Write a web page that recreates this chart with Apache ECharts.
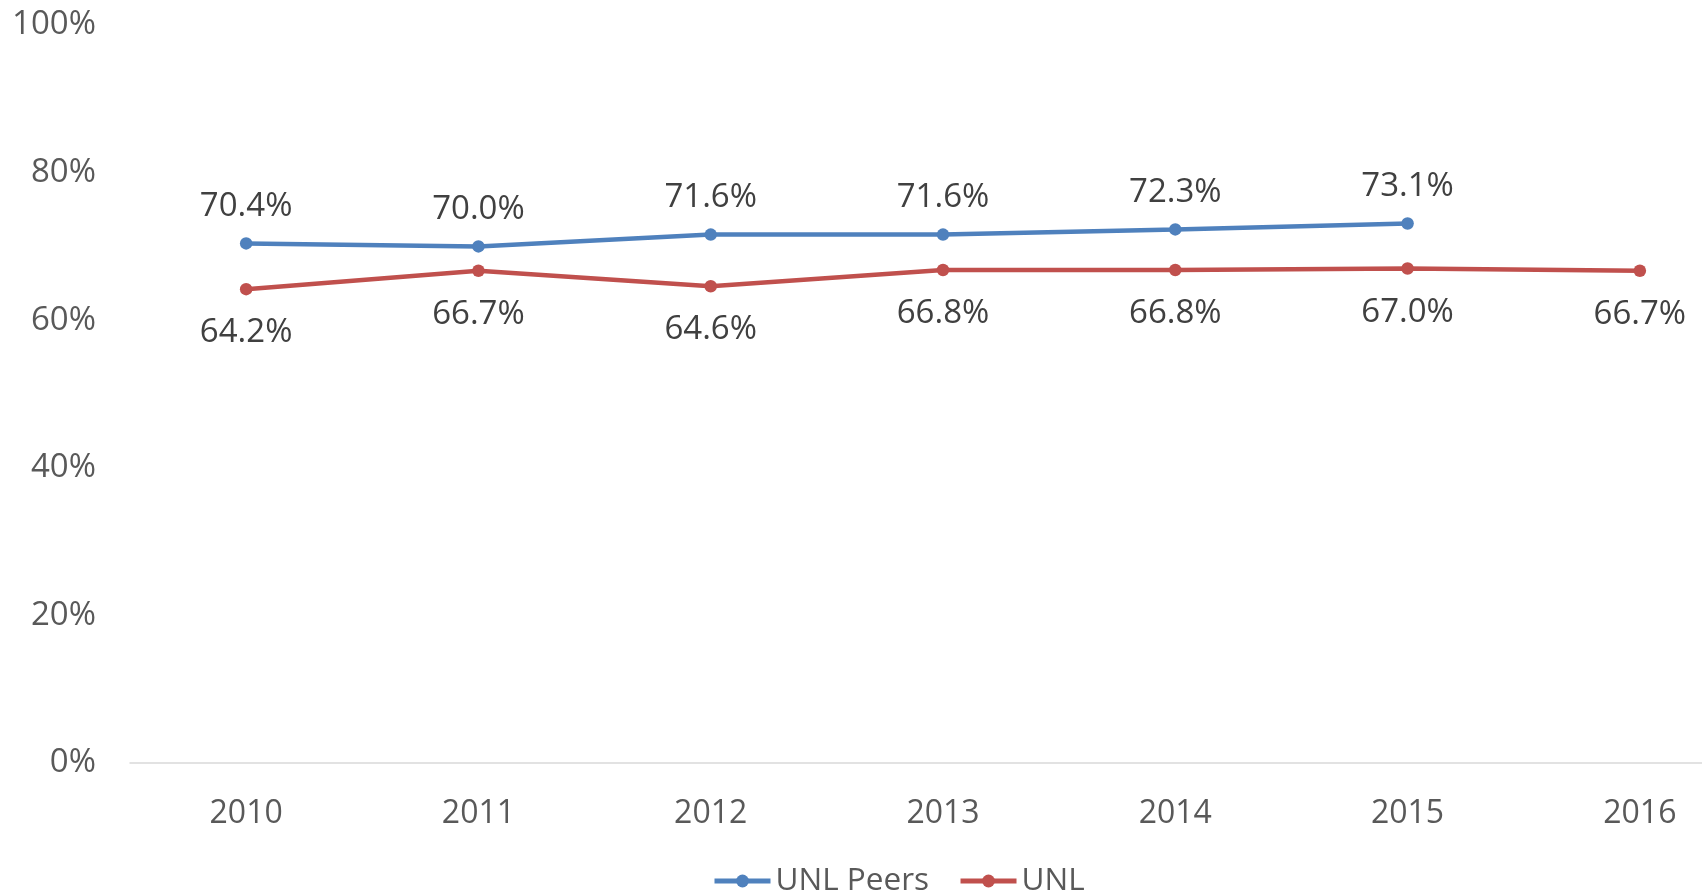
<!DOCTYPE html>
<html>
<head>
<meta charset="utf-8">
<script src="https://cdn.jsdelivr.net/npm/echarts@6/dist/echarts.min.js"></script>
<style>
html,body{margin:0;padding:0;background:#fff;}
#c{width:1702px;height:895px;}
</style>
</head>
<body>
<div id="c"></div>
<script>
const categories = ['2010','2011','2012','2013','2014','2015','2016'];
const peers = [70.4, 70.0, 71.6, 71.6, 72.3, 73.1, null];
const unl = [64.2, 66.7, 64.6, 66.8, 66.8, 67.0, 66.7];
const yTicks = [0, 20, 40, 60, 80, 100];

const FONT = '"Open Sans", "Liberation Sans", sans-serif';
const chart = echarts.init(document.getElementById('c'), null, {renderer: 'canvas'});
const lbl = (pos, d) => ({
  show: true, position: pos, distance: d,
  formatter: p => p.value.toFixed(1) + '%',
  color: '#404040', fontSize: 33, fontFamily: FONT
});
chart.setOption({
  animation: false,
  backgroundColor: '#fff',
  grid: {left: 130, top: 25, height: 738, width: 1626, containLabel: false, outerBoundsMode: 'none'},
  legend: {
    left: 707, top: 860,
    itemWidth: 56, itemHeight: 16, itemGap: 29,
    lineStyle: {width: 5},
    textStyle: {color: '#595959', fontSize: 31.5, fontFamily: FONT, padding: [0,0,0,0]},
    data: ['UNL Peers', 'UNL']
  },
  xAxis: {
    type: 'category', data: categories, boundaryGap: true,
    axisLine: {lineStyle: {color: '#D9D9D9', width: 1.5}},
    axisTick: {show: false},
    axisLabel: {color: '#595959', fontSize: 32, fontFamily: FONT, margin: 35}
  },
  yAxis: {
    type: 'value', min: 0, max: 100, interval: 20,
    axisLine: {show: false}, axisTick: {show: false},
    splitLine: {show: false},
    axisLabel: {color: '#595959', fontSize: 33, fontFamily: FONT, margin: 34,
      formatter: v => yTicks.includes(v) ? v + '%' : ''}
  },
  series: [
    {name: 'UNL Peers', type: 'line', data: peers, symbol: 'circle', symbolSize: 12.5,
     lineStyle: {color: '#4F81BD', width: 4.5}, itemStyle: {color: '#4F81BD'},
     label: lbl('top', 14)},
    {name: 'UNL', type: 'line', data: unl, symbol: 'circle', symbolSize: 12.5,
     lineStyle: {color: '#C0504D', width: 4.5}, itemStyle: {color: '#C0504D'},
     label: lbl('bottom', 21)}
  ]
});
</script>
</body>
</html>
